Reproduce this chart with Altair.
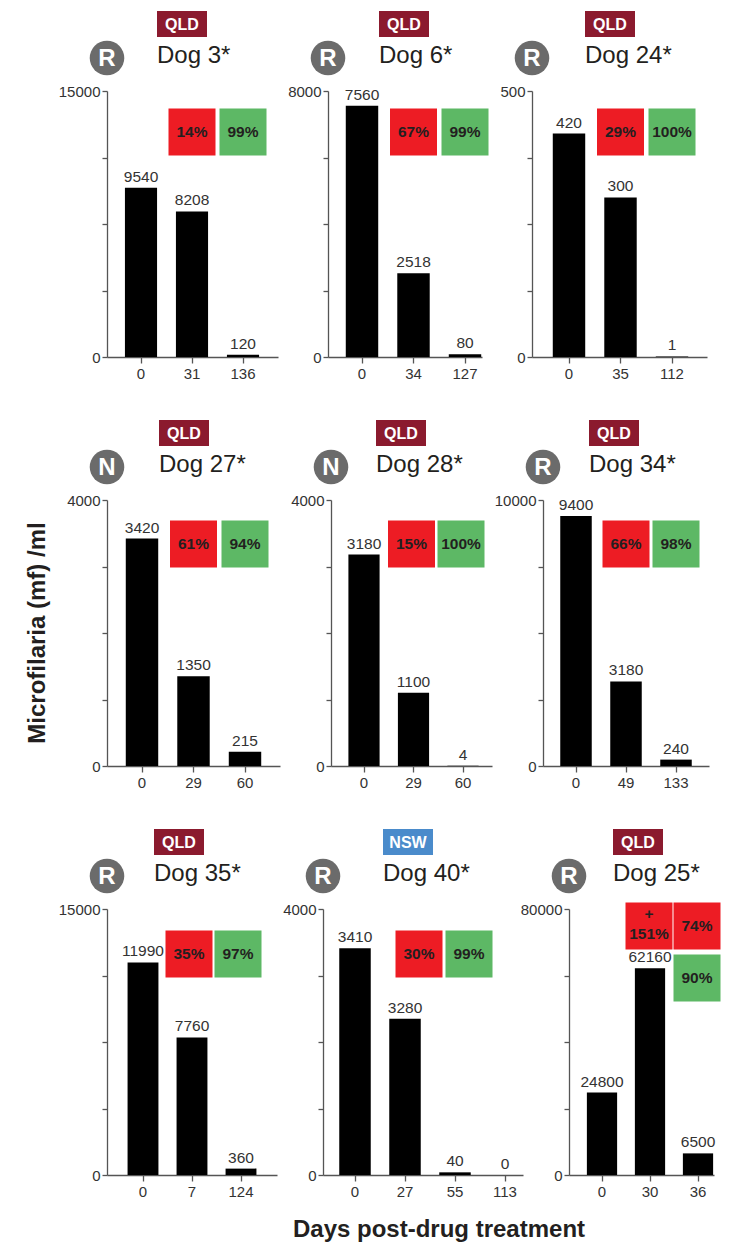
import altair as alt
import pandas as pd

# ---------------- data ----------------
dogs = ["Dog 3*", "Dog 6*", "Dog 24*", "Dog 27*", "Dog 28*", "Dog 34*", "Dog 35*", "Dog 40*", "Dog 25*"]
regions = ["QLD", "QLD", "QLD", "QLD", "QLD", "QLD", "QLD", "NSW", "QLD"]
letters = ["R", "R", "R", "N", "N", "R", "R", "R", "R"]
days = [
    ["0", "31", "136"],
    ["0", "34", "127"],
    ["0", "35", "112"],
    ["0", "29", "60"],
    ["0", "29", "60"],
    ["0", "49", "133"],
    ["0", "7", "124"],
    ["0", "27", "55", "113"],
    ["0", "30", "36"],
]
# printed counts (mf/ml)
counts = [
    [9540, 8208, 120],
    [7560, 2518, 80],
    [420, 300, 1],
    [3420, 1350, 215],
    [3180, 1100, 4],
    [9400, 3180, 240],
    [11990, 7760, 360],
    [3410, 3280, 40, 0],
    [24800, 62160, 6500],
]
# bar heights as drawn in the figure (Dog 40, day 27 bar is drawn lower than its label)
bar_heights = [
    [9540, 8208, 120],
    [7560, 2518, 80],
    [420, 300, 1],
    [3420, 1350, 215],
    [3180, 1100, 4],
    [9400, 3180, 240],
    [11990, 7760, 360],
    [3410, 2350, 40, 0],
    [24800, 62160, 6500],
]
y_max = [15000, 8000, 500, 4000, 4000, 10000, 15000, 4000, 80000]
box_texts = [
    ["14%", "99%"], ["67%", "99%"], ["29%", "100%"],
    ["61%", "94%"], ["15%", "100%"], ["66%", "98%"],
    ["35%", "97%"], ["30%", "99%"], ["+\n151%", "74%", "90%"],
]
box_kinds = [["red", "green"]] * 8 + [["red", "red", "green"]]
y_title = "Microfilaria (mf) /ml"
x_title = "Days post-drug treatment"

# ---------------- layout / style ----------------
FONT = "Liberation Sans"
RED = "#ED1C24"
GREEN = "#5DB865"
BADGE = {"QLD": "#8B1A2E", "NSW": "#4A8BCB"}
TXT = "#231F20"

panel_w = [171, 154, 175, 173, 161, 166, 170, 200, 145]
row_spacing = [50, 51, 46]
band_step = [51, 51.5, 51.5, 51.5, 49.5, 50, 49, 50, 48]
first_center = [34, 34, 37, 35, 33, 33, 36, 32, 33]
head_dx = [50, 51, 53, 52, 45, 46, 47, 60, 44]
box_col = [[1, 2]] * 8 + [[1, 2, 2]]
box_row = [[0, 0]] * 8 + [[0, 0, 1]]
box_dx = [0, 0, 0, 0, -2, 0, -3, 14, -1]
box_yc = [41, 41, 41, 44, 44, 44, 45, 45, 17]
H = 266
PI = 0.37
LH = 20


def band_scale(i, n):
    w, step, c1 = panel_w[i], band_step[i], first_center[i]
    po = (w / step - n + PI) / 2
    bw = step * (1 - PI)
    outer = w - step * (n - PI)
    align = (c1 - bw / 2) / outer if outer > 0 else 0.5
    align = min(max(align, 0.0), 1.0)
    return alt.Scale(paddingInner=PI, paddingOuter=max(po, 0), align=align)


def ytitle(opacity):
    return alt.Chart(pd.DataFrame({"t": [y_title]})).mark_text(
        fontSize=24, fontWeight="bold", color=TXT, angle=270, align="center",
        baseline="middle", opacity=opacity).encode(
        x=alt.value(-69), y=alt.value(H / 2), text="t:N")


def panel(i, extras=()):
    n = len(days[i])
    m = y_max[i]
    df = pd.DataFrame({"day": days[i], "count": bar_heights[i],
                       "label": [str(v) for v in counts[i]]})
    xenc = alt.X("day:N", sort=days[i], scale=band_scale(i, n),
                 axis=alt.Axis(title=None, labelAngle=0, tickSize=6, labelPadding=3,
                               labelFontSize=15, labelColor="#333", domainColor="#555",
                               tickColor="#555", domainWidth=1.3, tickWidth=1.3))
    yenc = alt.Y("count:Q", scale=alt.Scale(domain=[0, m], nice=False, zero=True),
                 axis=alt.Axis(title=None, values=[0, m / 4, m / 2, 3 * m / 4, m],
                               labelExpr=f"datum.value == 0 || datum.value == {m} ? datum.label : ''",
                               format="d", tickSize=5, labelOverlap=False, grid=False,
                               labelFontSize=15, labelColor="#333", labelPadding=2,
                               domainColor="#555", tickColor="#555",
                               domainWidth=1.3, tickWidth=1.3))
    base = alt.Chart(df)
    bars = base.mark_bar(color="black").encode(x=xenc, y=yenc)
    vals = base.mark_text(baseline="bottom", dy=-3, fontSize=15.5, color="#333").encode(
        x=xenc, y=yenc, text="label:N")

    layers = [bars, vals]

    bdf = pd.DataFrame({
        "day": [days[i][c] for c in box_col[i]],
        "text": box_texts[i],
        "kind": box_kinds[i],
        "row": box_row[i],
        "nl": [t.count("\n") + 1 for t in box_texts[i]],
    })
    cscale = alt.Color("kind:N", scale=alt.Scale(domain=["red", "green"], range=[RED, GREEN]),
                       legend=None)
    for r in sorted(set(box_row[i])):
        yc = box_yc[i] + r * 52
        bc = alt.Chart(bdf).transform_filter(alt.datum.row == r)
        layers.append(bc.mark_square(size=47 * 47, opacity=1, xOffset=box_dx[i]).encode(
            x=xenc, y=alt.value(yc), color=cscale))
        for nl in sorted(set(bdf.loc[bdf["row"] == r, "nl"])):
            tc = alt.Chart(bdf).transform_filter(
                (alt.datum.row == r) & (alt.datum.nl == nl))
            layers.append(tc.mark_text(fontWeight="bold", fontSize=15.5, color=TXT,
                                       baseline="middle", lineBreak="\n", lineHeight=LH,
                                       xOffset=box_dx[i],
                                       dy=-(nl - 1) * LH / 2 - (2 if nl > 1 else 0)).encode(
                x=xenc, y=alt.value(yc), text="text:N"))

    hdf = pd.DataFrame({"dog": [dogs[i]], "region": [regions[i]], "letter": [letters[i]]})
    hc = alt.Chart(hdf)
    hx = head_dx[i]
    layers.append(hc.mark_rect(color=BADGE[regions[i]]).encode(
        x=alt.value(hx), x2=alt.value(hx + 50), y=alt.value(-80), y2=alt.value(-54)))
    layers.append(hc.mark_text(color="white", fontWeight="bold", fontSize=16,
                               baseline="middle", align="center").encode(
        x=alt.value(hx + 25), y=alt.value(-66), text="region:N"))
    layers.append(hc.mark_circle(size=1195, color="#6B6B6B", opacity=1).encode(
        x=alt.value(0), y=alt.value(-33)))
    layers.append(hc.mark_text(color="white", fontWeight="bold", fontSize=24,
                               baseline="middle", align="center").encode(
        x=alt.value(0), y=alt.value(-32), text="letter:N"))
    layers.append(hc.mark_text(color=TXT, fontSize=24, align="left",
                               baseline="alphabetic").encode(
        x=alt.value(hx), y=alt.value(-28), text="dog:N"))
    layers.extend(extras)
    return alt.layer(*layers).properties(width=panel_w[i], height=H)


xtitle_layer = alt.Chart(pd.DataFrame({"t": [x_title]})).mark_text(
    fontSize=24, fontWeight="bold", color=TXT, align="center",
    baseline="middle").encode(x=alt.value(116), y=alt.value(321), text="t:N")

rows = []
for r in range(3):
    ps = []
    for c in range(3):
        i = r * 3 + c
        extras = []
        if c == 0:
            # real title in the middle row, invisible twin in the others keeps rows aligned
            extras.append(ytitle(1 if r == 1 else 0))
        if i == 7:
            extras.append(xtitle_layer)
        ps.append(panel(i, extras))
    rows.append(alt.hconcat(*ps, spacing=row_spacing[r], bounds="flush"))

chart = alt.vconcat(*rows, spacing=39).properties(
    padding={"left": 17, "top": 3, "right": 0, "bottom": 0}
).configure(font=FONT).configure_view(stroke=None)

chart.save("out.html", embed_options={"renderer": "svg", "actions": False})
